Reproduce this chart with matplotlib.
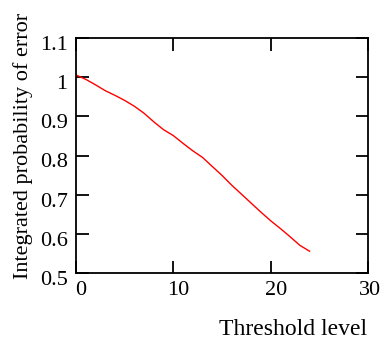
import matplotlib
matplotlib.use("Agg")
import matplotlib.pyplot as plt
import matplotlib.transforms as mtransforms

threshold = [0, 1, 2, 3, 4, 5, 6, 7, 8, 9, 10, 11, 12, 13, 14, 15, 16, 17, 18, 19, 20, 21, 22, 23, 24]
prob_error = [1.006, 0.995, 0.981, 0.966, 0.954, 0.941, 0.926, 0.908, 0.886, 0.866, 0.851, 0.831,
              0.812, 0.795, 0.772, 0.749, 0.724, 0.701, 0.678, 0.655, 0.633, 0.613, 0.592, 0.570, 0.555]
xticks = [0, 10, 20, 30]
yticks = [0.5, 0.6, 0.7, 0.8, 0.9, 1.0, 1.1]
yticklabels = ["0.5", "0.6", "0.7", "0.8", "0.9", "1", "1.1"]

plt.rcParams['font.family'] = ['Liberation Serif', 'DejaVu Serif']

fig = plt.figure(figsize=(3.82, 3.40), dpi=100)
ax = fig.add_axes([76/382, 1 - 272.7/340, (368 - 76)/382, (272.7 - 38.3)/340])

ax.plot(threshold, prob_error, color='#ff0000', linewidth=1.0)

ax.set_xlim(0, 30)
ax.set_ylim(0.5, 1.1)
ax.set_xticks(xticks)
ax.set_yticks(yticks)
ax.set_yticklabels(yticklabels)
ax.tick_params(direction='in', length=9, width=1.3, top=True, right=True,
               labelsize=16, pad=6, colors='black')
for s in ax.spines.values():
    s.set_linewidth(1.3)

# offsets seen in the reference
xlabels = ax.get_xticklabels()
for i, lab in enumerate(xlabels):
    dx = 5 if i < len(xlabels) - 1 else 2
    lab.set_transform(lab.get_transform() + mtransforms.ScaledTranslation(dx/100, 0, fig.dpi_scale_trans))
off_y = mtransforms.ScaledTranslation(0, -5/100, fig.dpi_scale_trans)
for lab in ax.get_yticklabels():
    lab.set_transform(lab.get_transform() + off_y)

fig.text(367/382, 1 - 335/340, "Threshold level", ha='right', va='baseline', fontsize=17)
fig.text(23/382, 1 - 146/340, "Integrated probability of error", rotation=90,
         ha='center', va='center', fontsize=16)

fig.savefig("out.png", dpi=100)
